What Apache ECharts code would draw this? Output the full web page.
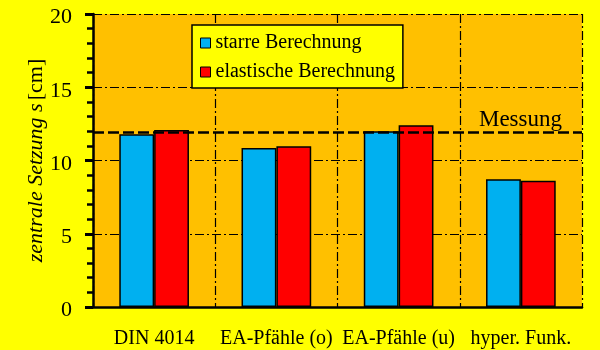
<!DOCTYPE html>
<html><head><meta charset="utf-8">
<script src="https://cdn.jsdelivr.net/npm/echarts@6/dist/echarts.min.js"></script>
<style>html,body{margin:0;padding:0;background:#FFFF00;}#c{width:600px;height:350px;}</style>
</head><body><div id="c"></div>
<script>
var categories = ['DIN 4014', 'EA-Pfähle (o)', 'EA-Pfähle (u)', 'hyper. Funk.'];
var starre = [11.8, 10.85, 12.0, 8.72];
var elastische = [12.08, 10.97, 12.4, 8.62];
var messung = 11.9;
var seriesNames = ['starre Berechnung', 'elastische Berechnung'];
var yTicks = {min: 0, max: 20, interval: 5};

var FONT = '"Liberation Serif", "Times New Roman", serif';
var dashDot = [9, 3, 2, 3];
var chart = echarts.init(document.getElementById('c'), null, {renderer: 'canvas'});
chart.setOption({
  backgroundColor: '#FFFF00',
  animation: false,
  textStyle: {fontFamily: FONT, color: '#000'},
  grid: {left: 93, right: 18, top: 14, bottom: 43, show: true, backgroundColor: '#FFC000', borderWidth: 0},
  legend: {
    orient: 'vertical', left: 192, top: 25, width: 209,
    backgroundColor: '#FFFF00', borderColor: '#000', borderWidth: 1.5, borderRadius: 0,
    padding: [8, 8, 6, 8],
    itemWidth: 10, itemHeight: 10, itemGap: 9,
    icon: 'rect',
    textStyle: {fontFamily: FONT, fontSize: 20, color: '#000', padding: [0, 0, 0, 0]},
    data: seriesNames.map(function(n){return {name: n, itemStyle: {borderColor: '#000', borderWidth: 1}};})
  },
  xAxis: {
    type: 'category', data: categories, boundaryGap: true,
    axisLine: {lineStyle: {color: '#000', width: 2.5}},
    axisTick: {show: false},
    axisLabel: {fontFamily: FONT, fontSize: 20, color: '#000', margin: 22, interval: 0},
    splitLine: {show: true, interval: 0, lineStyle: {color: '#000', width: 1.2, type: dashDot}}
  },
  yAxis: {
    type: 'value', min: yTicks.min, max: yTicks.max, interval: yTicks.interval,
    name: '{i|zentrale Setzung s} {n|[cm]}', nameLocation: 'middle', nameGap: 46, nameRotate: 90,
    nameMoveOverlap: false,
    nameTextStyle: {rich: {i: {fontFamily: FONT, fontSize: 22, fontStyle: 'italic', color: '#000'}, n: {fontFamily: FONT, fontSize: 22, color: '#000'}}},
    axisLine: {show: true, lineStyle: {color: '#000', width: 2.5}},
    axisTick: {show: true, inside: false, length: 8, lineStyle: {color: '#000', width: 3}},
    minorTick: {show: true, splitNumber: 5, length: 6, lineStyle: {color: '#000', width: 2.5}},
    axisLabel: {color: '#000', margin: 21, formatter: '{a|{value}}',
      rich: {a: {fontFamily: FONT, fontSize: 22, color: '#000', padding: [7, 0, 0, 0]}}},
    splitLine: {show: true, lineStyle: {color: '#000', width: 1.2, type: dashDot}}
  },
  series: [
    {name: seriesNames[0], type: 'bar', data: starre, barGap: '0%', barCategoryGap: '43%',
     itemStyle: {color: '#00B0F0', borderColor: '#000', borderWidth: 1.5},
     markLine: {symbol: 'none', silent: true,
       lineStyle: {color: '#000', width: 2.5, type: [11, 4]},
       label: {show: true, position: 'insideEndTop', formatter: 'Messung', fontFamily: FONT, fontSize: 23, color: '#000', distance: [20, 1]},
       data: [{yAxis: messung}]}},
    {name: seriesNames[1], type: 'bar', data: elastische, barGap: '0%', barCategoryGap: '43%',
     itemStyle: {color: '#FF0000', borderColor: '#000', borderWidth: 1.5}}
  ]
});
</script></body></html>
